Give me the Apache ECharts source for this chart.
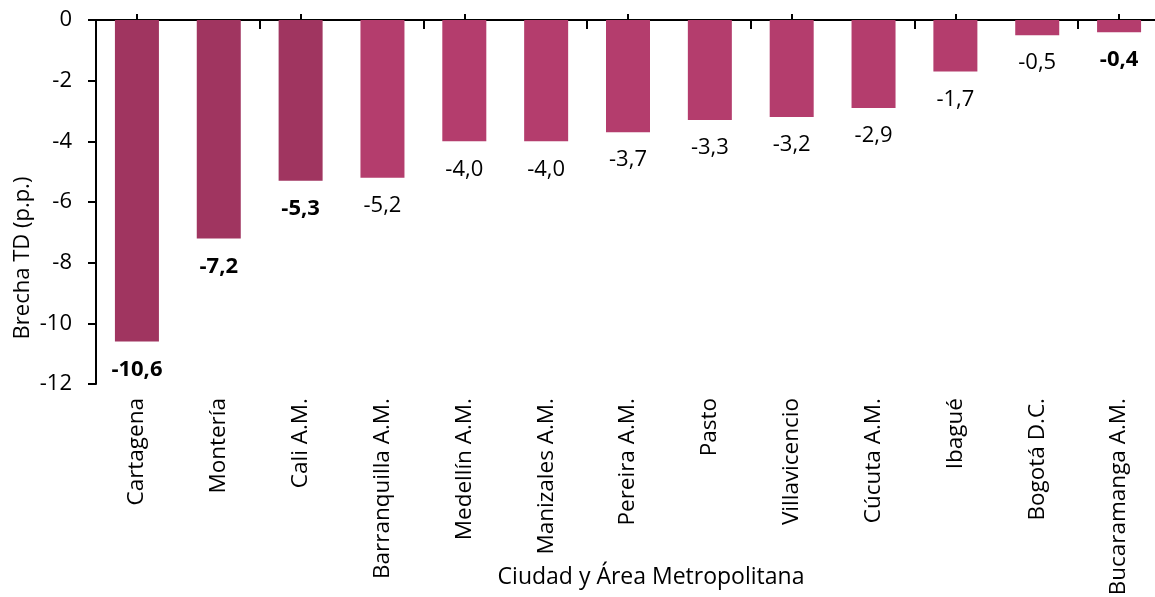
<!DOCTYPE html>
<html>
<head>
<meta charset="utf-8">
<script src="https://cdn.jsdelivr.net/npm/echarts@6/dist/echarts.min.js"></script>
<style>
  html, body { margin: 0; padding: 0; background: #fff; }
  #chart { width: 1155px; height: 597px; }
</style>
</head>
<body>
<div id="chart"></div>
<script>
// ciudades y brecha
const ciudades = ['Cartagena', 'Montería', 'Cali A.M.', 'Barranquilla A.M.', 'Medellín A.M.',
  'Manizales A.M.', 'Pereira A.M.', 'Pasto', 'Villavicencio', 'Cúcuta A.M.', 'Ibagué',
  'Bogotá D.C.', 'Bucaramanga A.M.'];
const brecha = [-10.6, -7.2, -5.3, -5.2, -4.0, -4.0, -3.7, -3.3, -3.2, -2.9, -1.7, -0.5, -0.4];
const oscuras = ['Cartagena', 'Montería', 'Cali A.M.'];
const negritas = ['Cartagena', 'Montería', 'Cali A.M.', 'Bucaramanga A.M.'];
const yTicks = [-12, -10, -8, -6, -4, -2, 0];

const fuente = 'Open Sans';

let datos = [];
for (let i = 0; i < ciudades.length; i++) {
  datos.push({
    value: brecha[i],
    itemStyle: { color: oscuras.indexOf(ciudades[i]) >= 0 ? '#a03560' : '#b43d6d' },
    label: { fontWeight: negritas.indexOf(ciudades[i]) >= 0 ? 'bold' : 'normal' }
  });
}

let myChart = echarts.init(document.getElementById('chart'));
let option = {
  animation: false,
  grid: { left: 96, right: -5, top: 20, bottom: 213, outerBoundsMode: 'none', containLabel: false },
  xAxis: [{
    type: 'category',
    data: ciudades,
    position: 'bottom',
    axisLine: { show: false },
    axisTick: { show: false },
    axisLabel: {
      rotate: 90, margin: 14, fontSize: 22.5, color: '#000', fontFamily: fuente, interval: 0
    },
    name: 'Ciudad y Área Metropolitana',
    nameLocation: 'middle',
    nameGap: 182,
    nameMoveOverlap: false,
    nameTextStyle: { fontSize: 23, color: '#000', fontFamily: fuente, padding: [0, 0, 0, 46] }
  }, {
    // linea del eje en cero con marcas entre categorias
    type: 'category',
    data: ciudades,
    position: 'top',
    axisLine: { show: true, lineStyle: { color: '#000', width: 2 } },
    axisTick: { show: true, inside: true, length: 9, lineStyle: { color: '#000', width: 2 } },
    axisLabel: { show: false }
  }, {
    // marcas al centro de cada barra
    type: 'category',
    data: ciudades,
    position: 'top',
    axisLine: { show: false },
    axisTick: { show: true, alignWithLabel: true, length: 6, lineStyle: { color: '#000', width: 2 } },
    axisLabel: { show: false }
  }],
  yAxis: {
    type: 'value',
    min: yTicks[0],
    max: yTicks[yTicks.length - 1],
    interval: 2,
    axisLine: { show: true, lineStyle: { color: '#000', width: 2 } },
    axisTick: { show: true, length: 8, lineStyle: { color: '#000', width: 2 } },
    splitLine: { show: false },
    axisLabel: { fontSize: 22, color: '#000', fontFamily: fuente, margin: 24 },
    name: 'Brecha TD (p.p.)',
    nameLocation: 'middle',
    nameGap: 62,
    nameMoveOverlap: false,
    nameTextStyle: { fontSize: 22, color: '#000', fontFamily: fuente, padding: [0, 112, 0, 0] }
  },
  series: [{
    type: 'bar',
    xAxisIndex: 0,
    barWidth: 44,
    data: datos,
    label: {
      show: true,
      position: 'bottom',
      distance: 17,
      fontSize: 22,
      color: '#000',
      fontFamily: fuente,
      formatter: function (p) {
        return p.value.toFixed(1).replace('.', ',');
      }
    }
  }]
};
myChart.setOption(option);
</script>
</body>
</html>
